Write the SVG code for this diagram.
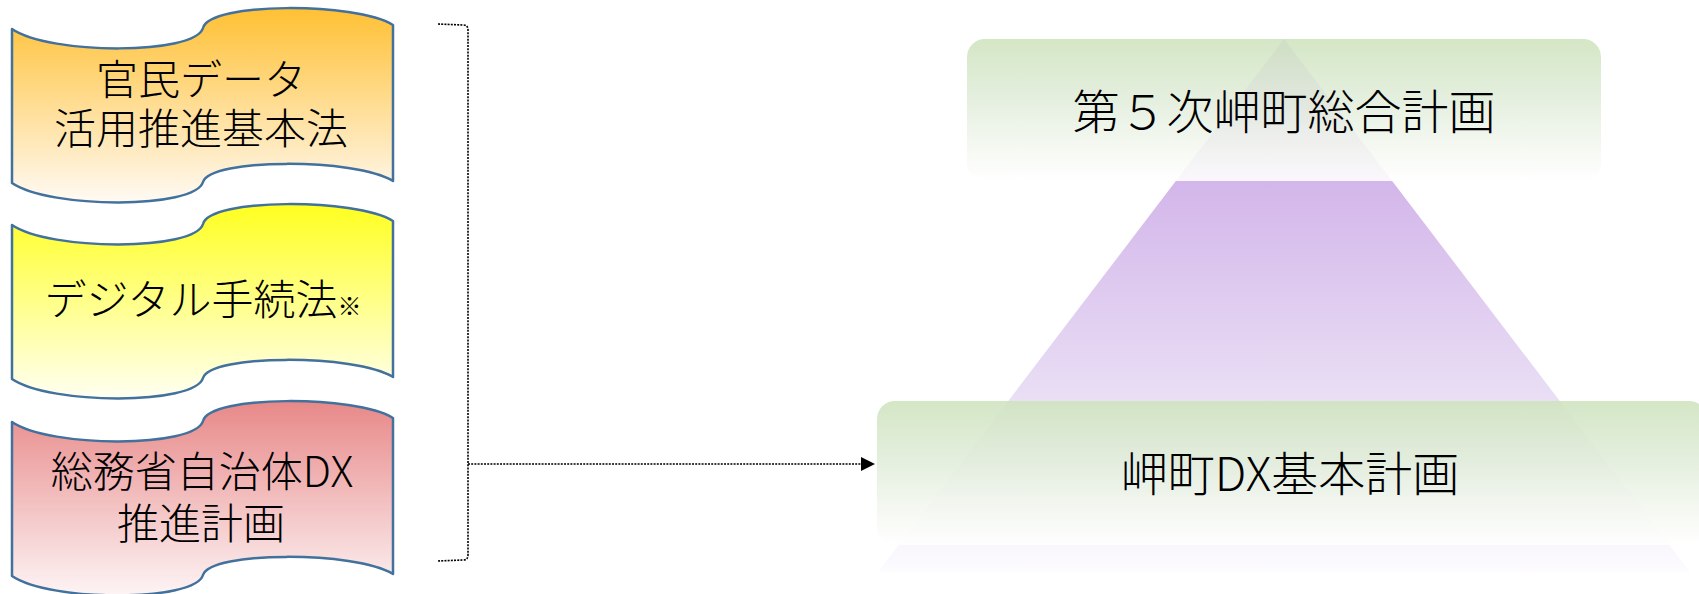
<svg xmlns="http://www.w3.org/2000/svg" width="1699" height="594" viewBox="0 0 1699 594">
<defs>
<style>
.scroll{stroke:#41719C;stroke-width:2.5;stroke-linejoin:round}
.lt{font-family:"Noto Sans CJK JP","Noto Sans",sans-serif;font-size:42px;font-weight:300;fill:#000;text-anchor:middle}
.rt{font-family:"Noto Sans CJK JP","Noto Sans",sans-serif;font-size:47px;font-weight:300;fill:#000;text-anchor:middle}
.conn{fill:none;stroke:#000;stroke-width:1.6;stroke-dasharray:2 1.2}
</style>
<linearGradient id="gOrange" x1="0" y1="0" x2="0" y2="1">
<stop offset="0" stop-color="#FFC033"/>
<stop offset="1" stop-color="#FFFAF4"/>
</linearGradient>
<linearGradient id="gYellow" x1="0" y1="0" x2="0" y2="1">
<stop offset="0" stop-color="#FFFF1F"/>
<stop offset="1" stop-color="#FFFFF2"/>
</linearGradient>
<linearGradient id="gPink" x1="0" y1="0" x2="0" y2="1">
<stop offset="0" stop-color="#E88888"/>
<stop offset="1" stop-color="#FDF4F5"/>
</linearGradient>
<linearGradient id="gTri" gradientUnits="userSpaceOnUse" x1="0" y1="39" x2="0" y2="572">
<stop offset="0" stop-color="#C9A4E4"/>
<stop offset="0.27" stop-color="#D3B6EA"/>
<stop offset="0.68" stop-color="#EADFF5"/>
<stop offset="1" stop-color="#FCFBFE"/>
</linearGradient>
<linearGradient id="gGreen" x1="0" y1="0" x2="0" y2="1">
<stop offset="0" stop-color="#CFE4BF"/>
<stop offset="0.45" stop-color="#E3EEDD"/>
<stop offset="0.8" stop-color="#F6F9F3"/>
<stop offset="1" stop-color="#FFFFFF"/>
</linearGradient>
<path id="scrollShape" d="M12,29 C50,55 195,55 203,28 C210,2 355,2 393,25 L393,181 C355,158 210,158 203,182 C195,209 50,209 12,183 Z"/>
<marker id="arrow" viewBox="0 0 10 10" refX="10" refY="5" markerWidth="14" markerHeight="14" markerUnits="userSpaceOnUse" orient="auto">
<path d="M0,0 L10,5 L0,10 Z" fill="#000"/>
</marker>
</defs>
<rect width="1699" height="594" fill="#FFFFFF"/>

<g id="pyramid">
<polygon points="1284,39 1690,572 878,572" fill="url(#gTri)"/>
</g>

<g id="node-plan5">
<rect x="967" y="39" width="634" height="142" rx="18" ry="18" fill="url(#gGreen)" fill-opacity="0.9"/>
<text class="rt" x="1284" y="129">第５次岬町総合計画</text>
</g>

<g id="node-dxplan">
<rect x="877" y="401" width="830" height="144" rx="18" ry="18" fill="url(#gGreen)" fill-opacity="0.9"/>
<text class="rt" x="1290" y="491">岬町DX基本計画</text>
</g>

<g id="node-law1">
<use href="#scrollShape" class="scroll" fill="url(#gOrange)"/>
<text class="lt"><tspan x="201" y="95">官民データ</tspan><tspan x="201" y="144">活用推進基本法</tspan></text>
</g>

<g id="node-law2" transform="translate(0,196)">
<use href="#scrollShape" class="scroll" fill="url(#gYellow)"/>
<text class="lt" x="203" y="119">デジタル手続法<tspan font-size="24">※</tspan></text>
</g>

<g id="node-law3" transform="translate(0,393)">
<use href="#scrollShape" class="scroll" fill="url(#gPink)"/>
<text class="lt"><tspan x="202" y="94">総務省自治体DX</tspan><tspan x="201" y="146">推進計画</tspan></text>
</g>

<g id="connectors">
<path class="conn" d="M438,24 L463,25 Q468,25 468,30 L468,555 Q468,560 463,560 L438,561"/>
<path class="conn" d="M468,464 L862,464"/>
<path d="M861,457 L875,464 L861,471 Z" fill="#000"/>
</g>
</svg>
